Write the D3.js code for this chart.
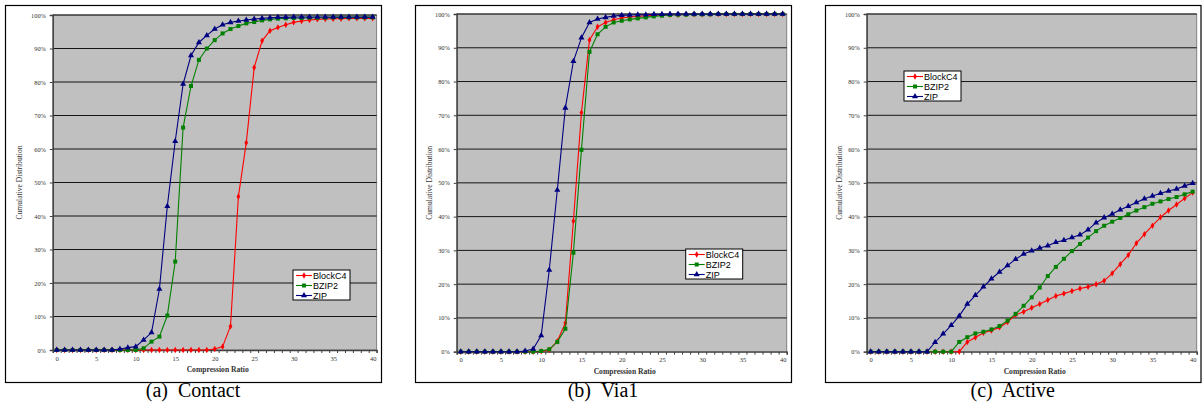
<!DOCTYPE html>
<html>
<head>
<meta charset="utf-8">
<script src="https://cdn.jsdelivr.net/npm/d3@7"></script>
<style>
body { margin:0; background:#fff; }
svg { display:block; }
</style>
</head>
<body>
<svg id="chart" width="1204" height="408"></svg>
<script>
// compression ratio categories 0..40
var ratios = d3.range(0, 41);
var xTickLabels = [0, 5, 10, 15, 20, 25, 30, 35, 40];
var yTickLabels = [0, 0.1, 0.2, 0.3, 0.4, 0.5, 0.6, 0.7, 0.8, 0.9, 1.0];
var seriesNames = ["BlockC4", "BZIP2", "ZIP"];

// (a) Contact, cumulative %
var contactBlockC4 = [0,0,0,0,0,0,0,0,0,0,0,0,0,0,0,0,0,0,0,0,0.3,1,7.1,45.8,61.9,84.3,92.3,95.3,96.3,97.1,97.8,98.2,98.5,98.7,98.8,98.9,98.9,99,99,99,99];
var contactBZIP2   = [0,0,0,0,0,0,0,0,0,0,0,0.5,2.5,4,10.3,26.4,66.4,78.8,86.6,90,92.5,94.5,95.8,96.7,97.5,97.9,98.4,98.7,98.9,99,99.1,99.1,99.2,99.2,99.2,99.3,99.3,99.3,99.3,99.3,99.3];
var contactZIP     = [0,0,0,0,0,0,0,0,0.3,0.7,1,3,5.2,18.2,42.9,62.3,79.4,87.9,91.8,93.9,95.8,97.1,97.8,98.2,98.5,98.8,99,99.2,99.3,99.3,99.4,99.4,99.4,99.4,99.4,99.4,99.4,99.4,99.4,99.4,99.4];

// (b) Via1
var via1BlockC4 = [0,0,0,0,0,0,0,0,0,0,0.1,0.5,3.1,8.5,38.7,70.8,92.3,96.2,97.5,98.3,98.8,99.1,99.3,99.5,99.6,99.7,99.8,99.8,99.9,99.9,99.9,99.9,100,100,100,100,100,100,100,100,100];
var via1BZIP2   = [0,0,0,0,0,0,0,0,0,0,0.2,0.7,2.9,6.8,29.3,59.8,88.8,94,96.2,97.5,98,98.4,98.7,99,99.3,99.5,99.7,99.8,99.8,99.9,99.9,99.9,100,100,100,100,100,100,100,100,100];
var via1ZIP     = [0,0,0,0,0,0,0,0,0.2,0.8,4.8,24.2,47.9,72.2,86,93,97.5,98.5,99,99.4,99.6,99.7,99.8,99.8,99.9,99.9,100,100,100,100,100,100,100,100,100,100,100,100,100,100,100];

// (c) Active
var activeBlockC4 = [0,0,0,0,0,0,0,0,0,0,0,0,2.9,4.2,5.6,6.3,7.2,8.8,10.9,11.8,13,14.1,15.3,16.5,17.2,18,18.7,19.2,20,21,23.2,25.9,28.6,32.1,34.8,37.3,39.8,41.8,43.6,45.4,47.1];
var activeBZIP2   = [0,0,0,0,0,0,0,0,0,0,0,2.9,4.3,5.4,5.9,6.6,7.6,9.2,11.2,13.6,16.1,19,22.4,25.1,27.5,29.8,31.9,33.8,35.7,37.3,38.5,39.6,40.7,41.8,42.8,43.8,44.5,45.2,45.8,46.6,47.4];
var activeZIP     = [0,0,0,0,0,0,0,0,2.8,5.3,7.8,10.6,14.1,16.7,19.2,21.6,23.6,25.5,27.4,28.9,29.9,30.7,31.4,32.4,33,33.8,34.6,36.1,38.2,39.7,40.8,42,43.1,44.2,45.3,46.1,46.9,47.6,48.2,49.1,49.9];

var colors = {BlockC4:"#ff0000", BZIP2:"#008000", ZIP:"#000080"};
var symbols = {BlockC4:d3.symbolDiamond, BZIP2:d3.symbolSquare, ZIP:d3.symbolTriangle};
var symSize = {BlockC4:12, BZIP2:16, ZIP:16};

var svg = d3.select("#chart");

var panels = [
	{caption:"(a)  Contact", data:[contactBlockC4, contactBZIP2, contactZIP],
	 frame:[5,5,381,382], plot:[52.8,15,376.6,350], legend:[293,270]},
	{caption:"(b)  Via1", data:[via1BlockC4, via1BZIP2, via1ZIP],
	 frame:[415,5,791,382], plot:[456.7,14,786.7,351.7], legend:[685.7,249]},
	{caption:"(c)  Active", data:[activeBlockC4, activeBZIP2, activeZIP],
	 frame:[825,5,1200.5,382], plot:[866.7,14,1196.7,351.7], legend:[904,71]}
];

function drawPanel(p){
	var g = svg.append("g");
	var f = p.frame, pl = p.plot;
	g.append("rect").attr("x", f[0]+0.5).attr("y", f[1]+0.5)
		.attr("width", f[2]-f[0]).attr("height", f[3]-f[1])
		.attr("fill", "#fff").attr("stroke", "#000").attr("stroke-width", 1.2);

	var x = d3.scaleLinear().domain([-0.5, 40.5]).range([pl[0], pl[2]]);
	var y = d3.scaleLinear().domain([0, 1]).range([pl[3], pl[1]]);

	g.append("rect").attr("x", pl[0]).attr("y", pl[1])
		.attr("width", pl[2]-pl[0]).attr("height", pl[3]-pl[1])
		.attr("fill", "#c0c0c0").attr("stroke", "#808080");

	// gridlines
	g.append("g").selectAll("line").data(yTickLabels.slice(1)).join("line")
		.attr("x1", pl[0]).attr("x2", pl[2])
		.attr("y1", function(d){return y(d);}).attr("y2", function(d){return y(d);})
		.attr("stroke", "#000").attr("stroke-width", 0.9);

	// y axis
	var ya = g.append("g").attr("transform", "translate("+pl[0]+",0)")
		.call(d3.axisLeft(y).tickValues(yTickLabels).tickSize(3).tickFormat(d3.format(".0%")));
	ya.select(".domain").attr("stroke", "#404040").attr("stroke-width", 1.3);
	ya.selectAll(".tick line").attr("stroke", "#404040");
	ya.selectAll("text").attr("font-family", "Liberation Serif").attr("font-size", 6.3)
		.attr("fill", "#333").attr("dx", -1);

	// x axis: category boundary ticks + labels
	var xa = g.append("g").attr("transform", "translate(0,"+pl[3]+")")
		.call(d3.axisBottom(x).tickValues(d3.range(-0.5, 41)).tickSize(3).tickFormat(""));
	xa.select(".domain").attr("stroke", "#404040").attr("stroke-width", 1.3);
	xa.selectAll(".tick line").attr("stroke", "#404040");
	var xl = g.append("g").attr("transform", "translate(0,"+pl[3]+")")
		.call(d3.axisBottom(x).tickValues(xTickLabels).tickSize(0).tickPadding(6));
	xl.select(".domain").remove();
	xl.selectAll("text").attr("font-family", "Liberation Serif").attr("font-size", 6.5).attr("fill", "#333");

	// axis titles
	g.append("text").attr("x", (pl[0]+pl[2])/2 + 3).attr("y", pl[3]+22)
		.attr("text-anchor", "middle").attr("font-family", "Liberation Serif")
		.attr("font-size", 7.6).attr("font-weight", "bold").attr("fill", "#333")
		.text("Compression Ratio");
	g.append("text").attr("transform", "translate("+(f[0]+17)+","+((pl[1]+pl[3])/2)+") rotate(-90)")
		.attr("text-anchor", "middle").attr("font-family", "Liberation Serif")
		.attr("font-size", 7.6).attr("fill", "#333")
		.text("Cumulative Distribution");

	// series
	var line = d3.line().x(function(d, i){return x(ratios[i]);}).y(function(d){return y(d/100);});
	p.data.forEach(function(vals, k){
		var name = seriesNames[k];
		g.append("path").datum(vals).attr("d", line)
			.attr("fill", "none").attr("stroke", colors[name]).attr("stroke-width", 1.1);
		g.append("g").selectAll("path").data(vals).join("path")
			.attr("transform", function(d, i){return "translate("+x(ratios[i])+","+y(d/100)+")";})
			.attr("d", d3.symbol().type(symbols[name]).size(symSize[name]))
			.attr("fill", colors[name]);
	});

	// legend
	var lg = g.append("g").attr("transform", "translate("+p.legend[0]+","+p.legend[1]+")");
	lg.append("rect").attr("width", 57).attr("height", 30)
		.attr("fill", "#fff").attr("stroke", "#000").attr("stroke-width", 1);
	seriesNames.forEach(function(name, k){
		var cy = 5.5 + k*10;
		lg.append("line").attr("x1", 3).attr("x2", 19).attr("y1", cy).attr("y2", cy)
			.attr("stroke", colors[name]).attr("stroke-width", 1.1);
		lg.append("path").attr("transform", "translate(11,"+cy+")")
			.attr("d", d3.symbol().type(symbols[name]).size(symSize[name])).attr("fill", colors[name]);
		lg.append("text").attr("x", 20).attr("y", cy+3.2).attr("font-family", "Liberation Sans")
			.attr("font-size", 9).attr("fill", "#000").text(name);
	});

	// caption
	svg.append("text").attr("x", (f[0]+f[2])/2).attr("y", 397)
		.attr("text-anchor", "middle").attr("font-family", "Liberation Serif")
		.attr("font-size", 20).attr("fill", "#000").attr("xml:space", "preserve")
		.style("white-space", "pre").text(p.caption);
}

panels.forEach(drawPanel);
</script>
</body>
</html>
